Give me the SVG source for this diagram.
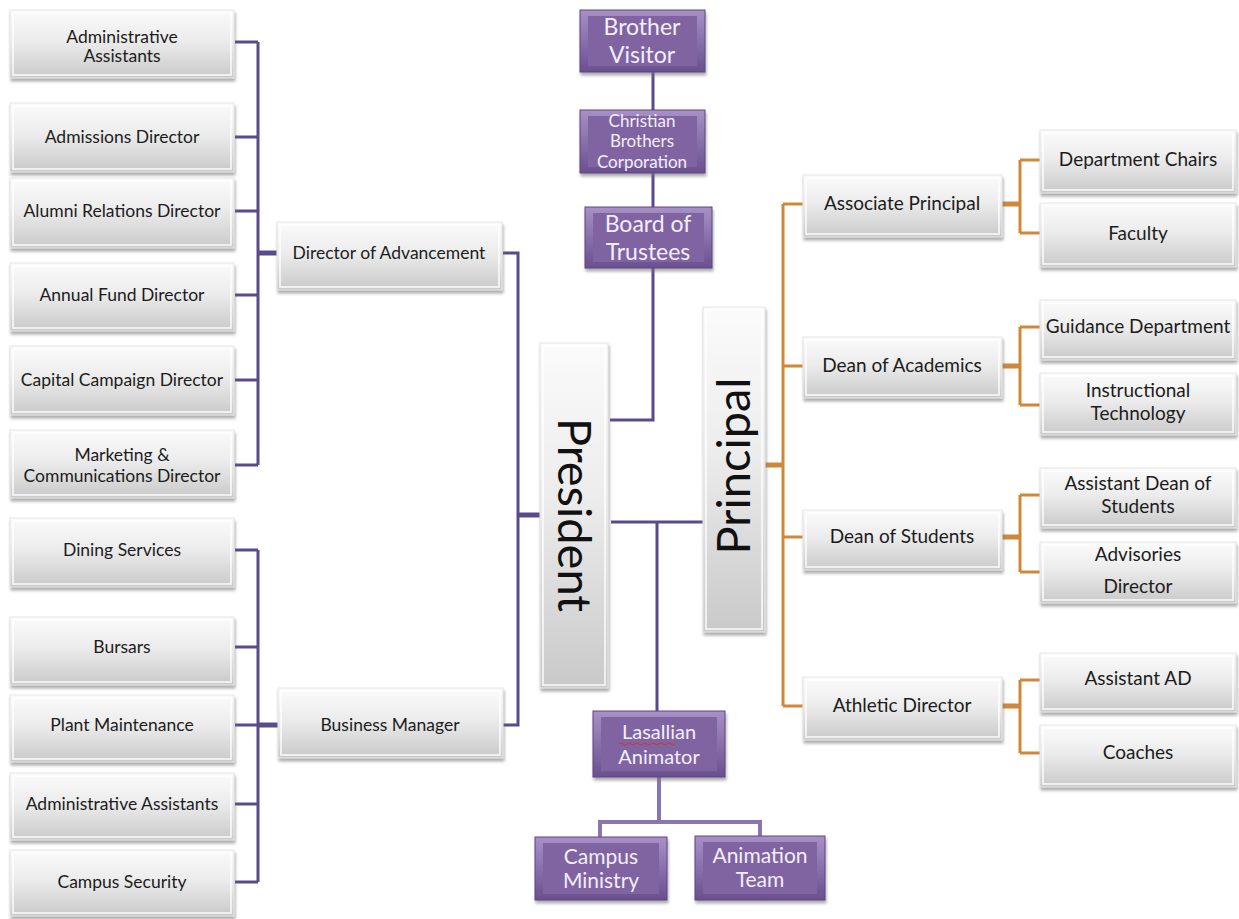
<svg xmlns="http://www.w3.org/2000/svg" width="1239" height="919" viewBox="0 0 1239 919">
<defs>
<linearGradient id="gGray" x1="0" y1="0" x2="0" y2="1">
<stop offset="0" stop-color="#fbfbfb"/>
<stop offset="0.45" stop-color="#ececec"/>
<stop offset="1" stop-color="#c9c9c9"/>
</linearGradient>
<linearGradient id="gPurp" x1="0" y1="0" x2="0" y2="1">
<stop offset="0" stop-color="#a891c6"/>
<stop offset="1" stop-color="#6a4f90"/>
</linearGradient>
<filter id="sh" x="-10%" y="-10%" width="125%" height="130%">
<feDropShadow dx="1" dy="3" stdDeviation="1.6" flood-color="#777" flood-opacity="0.6"/>
</filter>
<style>
.g rect.b{fill:url(#gGray);stroke:#e6e6e6;stroke-width:1;filter:url(#sh)}
.g rect.i{fill:none;stroke:#ffffff;stroke-opacity:0.7;stroke-width:2}
.p rect.b{fill:url(#gPurp);stroke:#5e4584;stroke-width:1;filter:url(#sh)}
.p rect.i{fill:#8064a2;stroke:none}
text{font-family:Lato,"Open Sans","Liberation Sans",sans-serif;text-anchor:middle}
.g text{fill:#1c1c1c;font-size:17.5px}
.r text{font-size:19px}
.p text{fill:#f3eefa;font-size:23px}
.big{font-size:47px!important;fill:#111!important}
.cp{fill:none;stroke:#5b4a8a;stroke-width:3}
.cpt{fill:none;stroke:#5b4a8a;stroke-width:5}
.cl{fill:none;stroke:#8b74b0;stroke-width:4}
.co{fill:none;stroke:#d0873a;stroke-width:3}
.cot{fill:none;stroke:#d0873a;stroke-width:5}
</style>
</defs>
<rect width="1239" height="919" fill="#ffffff"/>

<g id="connectors">
<path class="cp" d="M235,42H258M235,137H258M235,211H258M235,295H258M235,380H258M235,465H258M258,42V465"/>
<path class="cpt" d="M258,253H277"/>
<path class="cp" d="M235,550H258M235,647H258M235,725H258M235,804H258M235,882H258M258,550V882"/>
<path class="cpt" d="M258,725H278"/>
<path class="cp" d="M503,253H518V725H503"/>
<path class="cpt" d="M518,515H540"/>
<path class="cp" d="M653,40V420H610"/>
<path class="cp" d="M611,522H703M657,522V711"/>
<path class="cl" d="M659,777V822M600,837V822H760V837"/>
<path class="cot" d="M765,465H783"/>
<path class="co" d="M783,204V706M783,204H803M783,366H803M783,537H803M783,706H803"/>
<path class="cot" d="M1002,204H1020M1002,366H1020M1002,537H1020M1002,706H1020"/>
<path class="co" d="M1020,160V233M1020,160H1040M1020,233H1040"/>
<path class="co" d="M1020,327V405M1020,327H1040M1020,405H1040"/>
<path class="co" d="M1020,495V572M1020,495H1040M1020,572H1040"/>
<path class="co" d="M1020,680V753M1020,680H1040M1020,753H1040"/>
</g>

<g id="n-admin1" class="g"><rect class="b" x="10" y="10" width="224" height="68"/><rect class="i" x="13" y="13" width="218" height="62"/><text x="122" y="43">Administrative</text><text x="122" y="62">Assistants</text></g>
<g id="n-admissions" class="g"><rect class="b" x="10" y="103" width="224" height="69"/><rect class="i" x="13" y="106" width="218" height="63"/><text x="122" y="143">Admissions Director</text></g>
<g id="n-alumni" class="g"><rect class="b" x="10" y="178" width="224" height="70"/><rect class="i" x="13" y="181" width="218" height="64"/><text x="122" y="217">Alumni Relations Director</text></g>
<g id="n-annual" class="g"><rect class="b" x="10" y="263" width="224" height="68"/><rect class="i" x="13" y="266" width="218" height="62"/><text x="122" y="301">Annual Fund Director</text></g>
<g id="n-capital" class="g"><rect class="b" x="10" y="346" width="224" height="69"/><rect class="i" x="13" y="349" width="218" height="63"/><text x="122" y="386">Capital Campaign Director</text></g>
<g id="n-marketing" class="g"><rect class="b" x="10" y="430" width="224" height="68"/><rect class="i" x="13" y="433" width="218" height="62"/><text x="122" y="461">Marketing &amp;</text><text x="122" y="482">Communications Director</text></g>

<g id="n-dining" class="g"><rect class="b" x="10" y="518" width="224" height="69"/><rect class="i" x="13" y="521" width="218" height="63"/><text x="122" y="556">Dining Services</text></g>
<g id="n-bursars" class="g"><rect class="b" x="10" y="617" width="224" height="68"/><rect class="i" x="13" y="620" width="218" height="62"/><text x="122" y="653">Bursars</text></g>
<g id="n-plant" class="g"><rect class="b" x="10" y="695" width="224" height="67"/><rect class="i" x="13" y="698" width="218" height="61"/><text x="122" y="731">Plant Maintenance</text></g>
<g id="n-admin2" class="g"><rect class="b" x="10" y="773" width="224" height="67"/><rect class="i" x="13" y="776" width="218" height="61"/><text x="122" y="810">Administrative Assistants</text></g>
<g id="n-security" class="g"><rect class="b" x="10" y="850" width="224" height="66"/><rect class="i" x="13" y="853" width="218" height="60"/><text x="122" y="888">Campus Security</text></g>

<g id="n-advancement" class="g"><rect class="b" x="277" y="222" width="225" height="68"/><rect class="i" x="280" y="225" width="219" height="62"/><text x="389" y="259">Director  of Advancement</text></g>
<g id="n-business" class="g"><rect class="b" x="278" y="688" width="225" height="70"/><rect class="i" x="281" y="691" width="219" height="64"/><text x="390" y="731">Business Manager</text></g>

<g id="n-visitor" class="p"><rect class="b" x="580" y="10" width="125" height="62"/><rect class="i" x="588" y="16" width="109" height="50"/><text x="642" y="35">Brother</text><text x="642" y="63">Visitor</text></g>
<g id="n-cbc" class="p"><rect class="b" x="580" y="110" width="125" height="63"/><rect class="i" x="588" y="116" width="109" height="51"/><text x="642" y="127" style="font-size:17px">Christian</text><text x="642" y="147" style="font-size:17px">Brothers</text><text x="642" y="168" style="font-size:17px">Corporation</text></g>
<g id="n-board" class="p"><rect class="b" x="585" y="207" width="127" height="61"/><rect class="i" x="593" y="213" width="111" height="49"/><text x="648" y="232">Board of</text><text x="648" y="260">Trustees</text></g>

<g id="n-president" class="g"><rect class="b" x="540" y="343" width="68" height="345"/><rect class="i" x="543" y="346" width="62" height="339"/><text class="big" transform="translate(558,515) rotate(90)">President</text></g>
<g id="n-principal" class="g"><rect class="b" x="703" y="307" width="62" height="325"/><rect class="i" x="706" y="310" width="56" height="319"/><text class="big" transform="translate(750,466) rotate(-90)">Principal</text></g>

<g id="n-lasallian" class="p"><rect class="b" x="593" y="711" width="132" height="66"/><rect class="i" x="601" y="717" width="116" height="54"/><text x="659" y="739" style="font-size:20px">Lasallian</text><path d="M619,744q2,-2 4,0t4,0t4,0t4,0t4,0t4,0t4,0t4,0t4,0t4,0t4,0t4,0t4,0t4,0" fill="none" stroke="#d83030" stroke-width="1"/><text x="659" y="764" style="font-size:20px">Animator</text></g>
<g id="n-ministry" class="p"><rect class="b" x="535" y="837" width="132" height="63"/><rect class="i" x="543" y="843" width="116" height="51"/><text x="601" y="864" style="font-size:21px">Campus</text><text x="601" y="888" style="font-size:21px">Ministry</text></g>
<g id="n-animation" class="p"><rect class="b" x="695" y="836" width="130" height="64"/><rect class="i" x="703" y="842" width="114" height="52"/><text x="760" y="863" style="font-size:21px">Animation</text><text x="760" y="887" style="font-size:21px">Team</text></g>

<g id="n-assoc" class="g r"><rect class="b" x="803" y="175" width="199" height="62"/><rect class="i" x="806" y="178" width="193" height="56"/><text x="902" y="210">Associate  Principal</text></g>
<g id="n-deanacad" class="g r"><rect class="b" x="803" y="337" width="199" height="61"/><rect class="i" x="806" y="340" width="193" height="55"/><text x="902" y="372">Dean of Academics</text></g>
<g id="n-deanstud" class="g r"><rect class="b" x="803" y="510" width="199" height="60"/><rect class="i" x="806" y="513" width="193" height="54"/><text x="902" y="543">Dean of Students</text></g>
<g id="n-athletic" class="g r"><rect class="b" x="803" y="677" width="199" height="63"/><rect class="i" x="806" y="680" width="193" height="57"/><text x="902" y="712">Athletic  Director</text></g>

<g id="n-chairs" class="g r"><rect class="b" x="1040" y="130" width="196" height="63"/><rect class="i" x="1043" y="133" width="190" height="57"/><text x="1138" y="166">Department Chairs</text></g>
<g id="n-faculty" class="g r"><rect class="b" x="1040" y="203" width="196" height="64"/><rect class="i" x="1043" y="206" width="190" height="58"/><text x="1138" y="240">Faculty</text></g>
<g id="n-guidance" class="g r"><rect class="b" x="1040" y="300" width="196" height="60"/><rect class="i" x="1043" y="303" width="190" height="54"/><text x="1138" y="333">Guidance  Department</text></g>
<g id="n-instr" class="g r"><rect class="b" x="1040" y="373" width="196" height="62"/><rect class="i" x="1043" y="376" width="190" height="56"/><text x="1138" y="397">Instructional</text><text x="1138" y="420">Technology</text></g>
<g id="n-asstdean" class="g r"><rect class="b" x="1040" y="468" width="196" height="60"/><rect class="i" x="1043" y="471" width="190" height="54"/><text x="1138" y="490">Assistant  Dean of</text><text x="1138" y="513">Students</text></g>
<g id="n-advisories" class="g r"><rect class="b" x="1040" y="542" width="196" height="61"/><rect class="i" x="1043" y="545" width="190" height="55"/><text x="1138" y="561">Advisories</text><text x="1138" y="593">Director</text></g>
<g id="n-asstad" class="g r"><rect class="b" x="1040" y="653" width="196" height="59"/><rect class="i" x="1043" y="656" width="190" height="53"/><text x="1138" y="685">Assistant  AD</text></g>
<g id="n-coaches" class="g r"><rect class="b" x="1040" y="725" width="196" height="62"/><rect class="i" x="1043" y="728" width="190" height="56"/><text x="1138" y="759">Coaches</text></g>
</svg>
